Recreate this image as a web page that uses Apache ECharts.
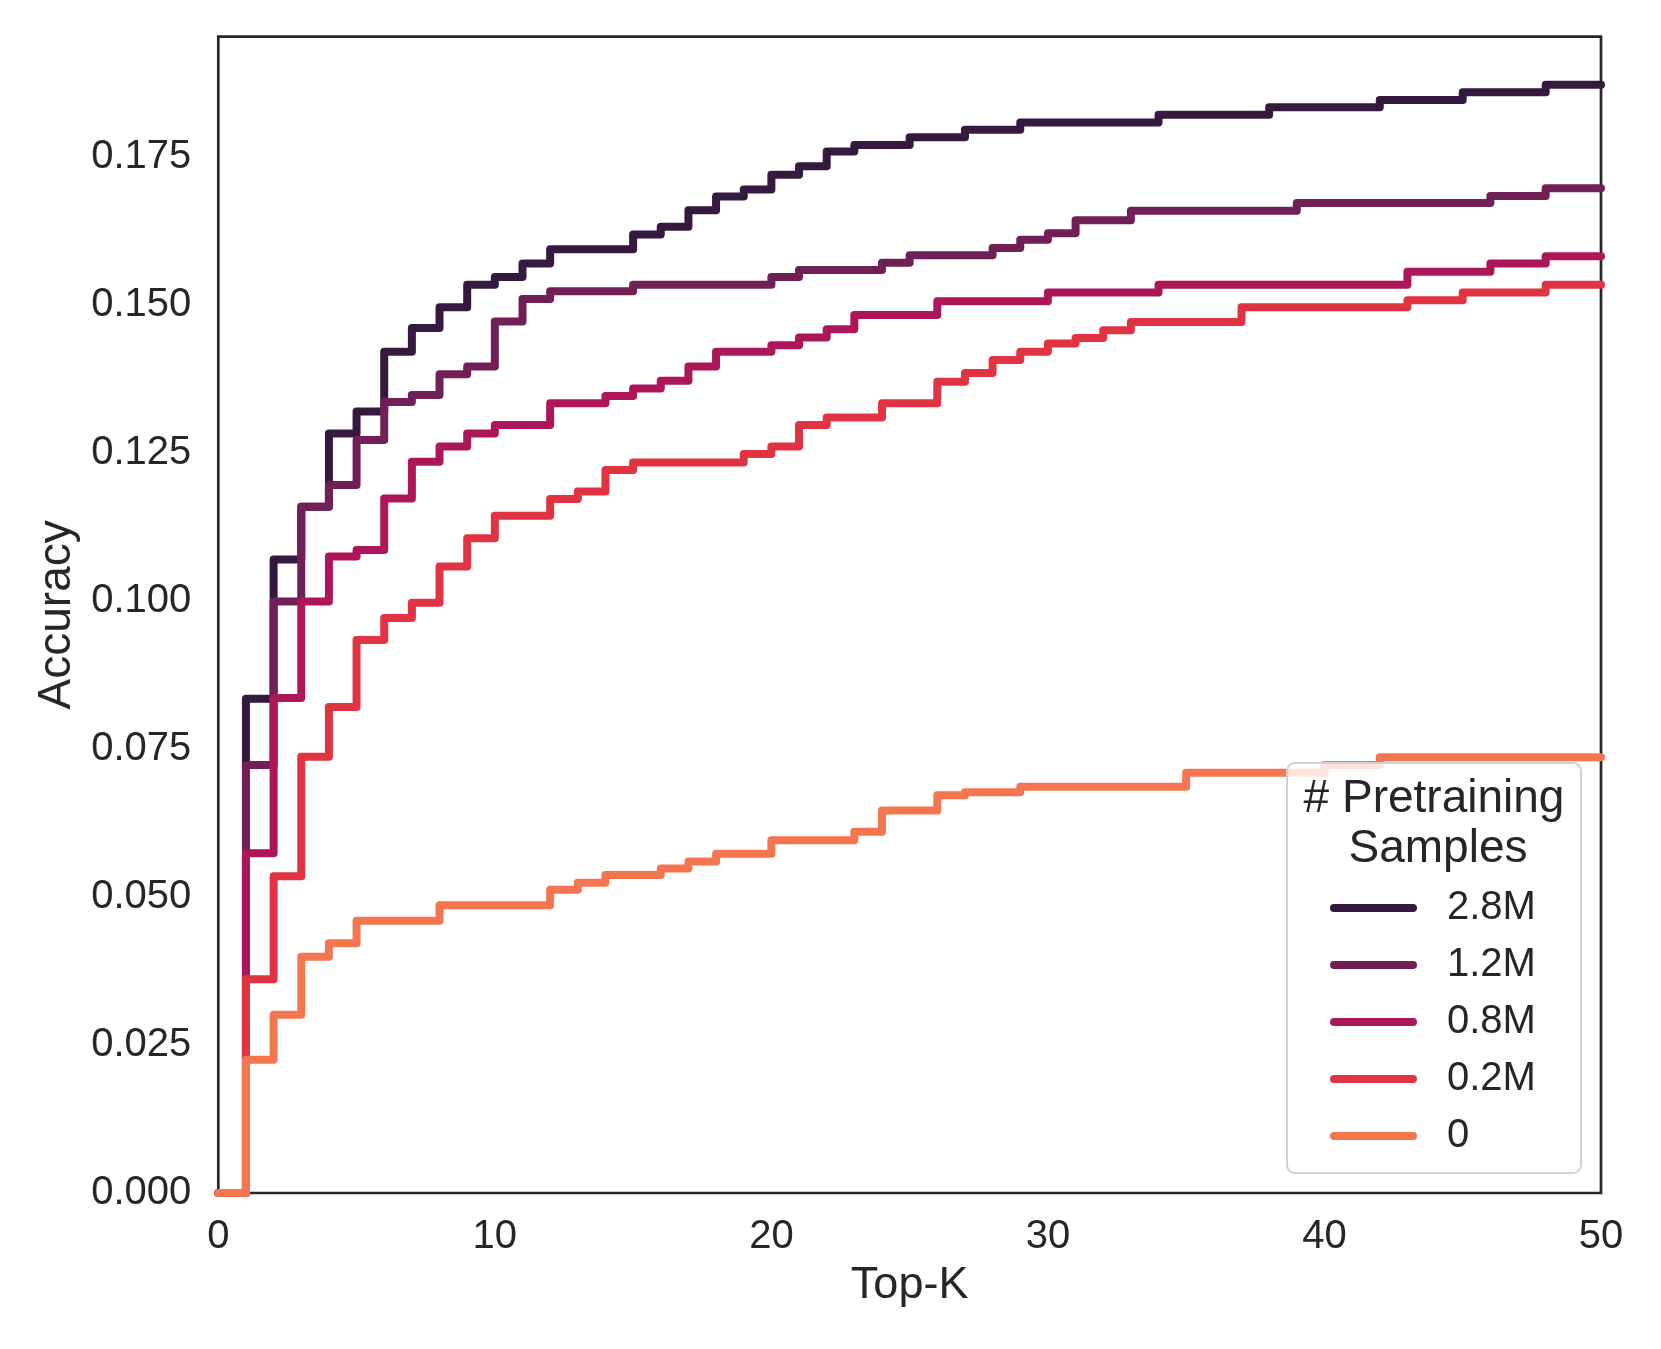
<!DOCTYPE html>
<html>
<head>
<meta charset="utf-8">
<script src="https://cdn.jsdelivr.net/npm/echarts@6/dist/echarts.min.js"></script>
<style>
html,body{margin:0;padding:0;background:#fff;}
#chart{width:1661px;height:1349px;}
</style>
</head>
<body>
<div id="chart"></div>
<script>
// ---- data ----
const topK = [0,1,2,3,4,5,6,7,8,9,10,11,12,13,14,15,16,17,18,19,20,21,22,23,24,25,26,27,28,29,30,31,32,33,34,35,36,37,38,39,40,41,42,43,44,45,46,47,48,49,50];
const seriesNames = ['2.8M', '1.2M', '0.8M', '0.2M', '0'];
const acc_2_8M = [0, 0.0835, 0.1070, 0.1159, 0.1283, 0.1320, 0.1421, 0.1461, 0.1496, 0.1534, 0.1547, 0.1570, 0.1594, 0.1594, 0.1594, 0.1619, 0.1632, 0.1660, 0.1683, 0.1695, 0.1720, 0.1734, 0.1759, 0.1770, 0.1770, 0.1783, 0.1783, 0.1796, 0.1796, 0.1808, 0.1808, 0.1808, 0.1808, 0.1808, 0.1821, 0.1821, 0.1821, 0.1821, 0.1834, 0.1834, 0.1834, 0.1834, 0.1846, 0.1846, 0.1846, 0.1859, 0.1859, 0.1859, 0.1872, 0.1872, 0.1872];
const acc_1_2M = [0, 0.0723, 0.0999, 0.1159, 0.1196, 0.1272, 0.1336, 0.1348, 0.1383, 0.1396, 0.1472, 0.1510, 0.1523, 0.1523, 0.1523, 0.1534, 0.1534, 0.1534, 0.1534, 0.1534, 0.1547, 0.1559, 0.1559, 0.1559, 0.1571, 0.1584, 0.1584, 0.1584, 0.1596, 0.1610, 0.1621, 0.1643, 0.1643, 0.1659, 0.1659, 0.1659, 0.1659, 0.1659, 0.1659, 0.1672, 0.1672, 0.1672, 0.1672, 0.1672, 0.1672, 0.1672, 0.1684, 0.1684, 0.1697, 0.1697, 0.1697];
const acc_0_8M = [0, 0.0574, 0.0836, 0.0999, 0.1075, 0.1086, 0.1173, 0.1235, 0.1261, 0.1283, 0.1297, 0.1297, 0.1334, 0.1334, 0.1346, 0.1359, 0.1372, 0.1396, 0.1421, 0.1421, 0.1432, 0.1445, 0.1459, 0.1483, 0.1483, 0.1483, 0.1506, 0.1506, 0.1506, 0.1506, 0.1521, 0.1521, 0.1521, 0.1521, 0.1534, 0.1534, 0.1534, 0.1534, 0.1534, 0.1534, 0.1534, 0.1534, 0.1534, 0.1556, 0.1556, 0.1556, 0.1570, 0.1570, 0.1582, 0.1582, 0.1582];
const acc_0_2M = [0, 0.0361, 0.0535, 0.0737, 0.0821, 0.0934, 0.0971, 0.0997, 0.1058, 0.1106, 0.1144, 0.1144, 0.1172, 0.1185, 0.1221, 0.1234, 0.1234, 0.1234, 0.1234, 0.1248, 0.1261, 0.1297, 0.1310, 0.1310, 0.1334, 0.1334, 0.1370, 0.1385, 0.1407, 0.1421, 0.1435, 0.1444, 0.1457, 0.1471, 0.1471, 0.1471, 0.1471, 0.1496, 0.1496, 0.1496, 0.1496, 0.1496, 0.1496, 0.1508, 0.1508, 0.1521, 0.1521, 0.1521, 0.1534, 0.1534, 0.1534];
const acc_0 = [0, 0.0225, 0.0301, 0.0399, 0.0422, 0.0460, 0.0460, 0.0460, 0.0486, 0.0486, 0.0486, 0.0486, 0.0512, 0.0524, 0.0537, 0.0537, 0.0548, 0.0560, 0.0573, 0.0573, 0.0596, 0.0596, 0.0596, 0.0610, 0.0646, 0.0646, 0.0672, 0.0677, 0.0677, 0.0686, 0.0686, 0.0686, 0.0686, 0.0686, 0.0686, 0.0710, 0.0710, 0.0710, 0.0710, 0.0710, 0.0723, 0.0723, 0.0736, 0.0736, 0.0736, 0.0736, 0.0736, 0.0736, 0.0736, 0.0736, 0.0736];
const yTicks = ['0.000', '0.025', '0.050', '0.075', '0.100', '0.125', '0.150', '0.175'];
const xTicks = ['0', '10', '20', '30', '40', '50'];
const legendTitle = ['# Pretraining', 'Samples'];
const xName = 'Top-K';
const yName = 'Accuracy';

// ---- styling ----
const colors = ['#35193e', '#701f57', '#ad1759', '#e13342', '#f37651'];
const FONT = "'Liberation Sans', Arial, Helvetica, sans-serif";
const TXT = '#262626';
const allSeries = [acc_2_8M, acc_1_2M, acc_0_8M, acc_0_2M, acc_0];

const chart = echarts.init(document.getElementById('chart'), null, {renderer: 'canvas'});

const grid = {left: 218.3, top: 36.7, right: 1661 - 1601, bottom: 1349 - 1193};

const option = {
  backgroundColor: '#ffffff',
  animation: false,
  color: colors,
  grid: Object.assign({show: true, borderColor: TXT, borderWidth: 2.7, backgroundColor: 'transparent', containLabel: false}, grid),
  xAxis: {
    type: 'value', min: 0, max: 50, interval: 10,
    name: xName, nameLocation: 'middle', nameGap: 70,
    nameTextStyle: {fontFamily: FONT, fontSize: 45, color: TXT},
    axisLine: {show: false}, axisTick: {show: false}, splitLine: {show: false},
    axisLabel: {fontFamily: FONT, fontSize: 40, color: TXT, margin: 24,
      formatter: v => { const s = String(Math.round(v)); return xTicks.indexOf(s) >= 0 ? s : ''; }}
  },
  yAxis: {
    type: 'value', min: 0, max: 0.1953, interval: 0.025,
    name: yName, nameLocation: 'middle', nameGap: 138,
    nameTextStyle: {fontFamily: FONT, fontSize: 46, color: TXT},
    axisLine: {show: false}, axisTick: {show: false}, splitLine: {show: false},
    axisLabel: {fontFamily: FONT, fontSize: 40, color: TXT, margin: 27, showMaxLabel: false, lineHeight: 46, padding: [8, 0, 0, 0],
      formatter: v => { const s = v.toFixed(3); return yTicks.indexOf(s) >= 0 ? s : ''; }}
  },
  legend: {
    data: seriesNames,
    orient: 'vertical', left: 1330, top: 888, padding: 0,
    itemWidth: 87, itemHeight: 8, itemGap: 17,
    icon: 'path://M4,0 L83,0 A4,4 0 0 1 83,8 L4,8 A4,4 0 0 1 4,0 Z',
    selectedMode: false, z: 10,
    textStyle: {fontFamily: FONT, fontSize: 40, color: TXT, lineHeight: 40, padding: [0, 0, 0, 25]}
  },
  graphic: [
    {type: 'rect', z: 5, shape: {x: 1287, y: 763, width: 294, height: 410, r: 8},
      style: {fill: 'rgba(255,255,255,0.8)', stroke: '#d0d0d0', lineWidth: 2}},
    {type: 'text', z: 10, x: 1434, y: 799,
      style: {text: legendTitle[0], fontFamily: FONT, fontSize: 46, fill: TXT, textAlign: 'center', textVerticalAlign: 'middle'}},
    {type: 'text', z: 10, x: 1438, y: 849,
      style: {text: legendTitle[1], fontFamily: FONT, fontSize: 46, fill: TXT, textAlign: 'center', textVerticalAlign: 'middle'}}
  ],
  series: seriesNames.map((name, i) => ({
    name: name,
    type: 'line',
    step: 'end',
    showSymbol: false,
    symbol: 'none',
    clip: true,
    z: 2 + i * 0.01,
    lineStyle: {width: 8, color: colors[i], cap: 'round', join: 'round'},
    itemStyle: {color: colors[i]},
    emphasis: {disabled: true},
    data: topK.map((k, j) => [k, allSeries[i][j]])
  }))
};
chart.setOption(option);
</script>
</body>
</html>
